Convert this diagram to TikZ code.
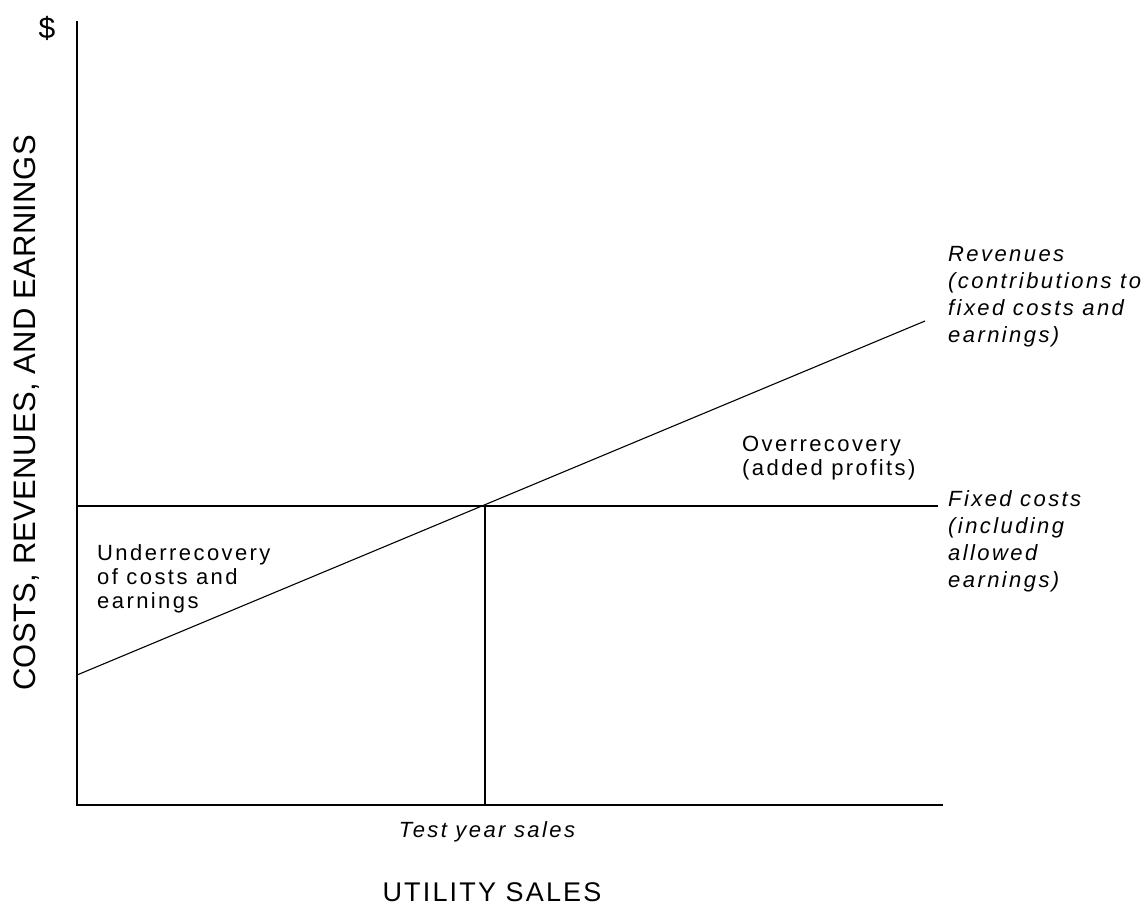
\documentclass[tikz,border=0pt]{standalone}
\usepackage{fontspec}
\setmainfont{Liberation Sans}
\newfontfamily\bodyfont[LetterSpace=11]{Liberation Sans}
\newfontfamily\ylabfont[LetterSpace=1]{Liberation Sans}
\newfontfamily\xlabfont[LetterSpace=8]{Liberation Sans}
\tikzset{
  axisline/.style={line width=1.2pt, black},
  plotline/.style={line width=1.1pt, black},
  body/.style={inner sep=0pt, align=left, font=\bodyfont\fontsize{22}{24}\selectfont},
  ibody/.style={inner sep=0pt, align=left, font=\bodyfont\itshape\fontsize{22}{27}\selectfont},
}
\begin{document}
\begin{tikzpicture}[x=1pt,y=-1pt]
\useasboundingbox (0,0) rectangle (1148,916);
% coordinates
\coordinate (T) at (77,21);
\coordinate (O) at (77,805);
\coordinate (XE) at (943,805);
\coordinate (F0) at (77,506);
\coordinate (FE) at (938,506);
\coordinate (R0) at (77,675);
\coordinate (RE) at (925,321);
\coordinate (P) at (485,506);
\coordinate (PB) at (485,805);
% axes and lines
\draw[axisline] (T) -- (O) -- (XE);
\draw[plotline] (F0) -- (FE);
\draw[plotline] (R0) -- (RE);
\draw[plotline] (P) -- (PB);
% labels
\node[inner sep=0pt, font=\fontsize{30}{30}\selectfont] (dollar) at (47,28) {\$};
\node[inner sep=0pt, rotate=90, font=\ylabfont\fontsize{31}{31}\selectfont] (ylab) at (27,413) {COSTS, REVENUES, AND EARNINGS};
\node[inner sep=0pt, font=\xlabfont\fontsize{27}{27}\selectfont] (xlab) at (492,892) {UTILITY SALES};
\node[ibody, font=\bodyfont\itshape\fontsize{22}{22}\selectfont] (tys) at (487,832) {Test year sales};
\node[ibody, anchor=north west] (rev) at (948,246) {Revenues\\(contributions to\\fixed costs and\\earnings)};
\node[ibody, anchor=north west] (fix) at (948,490) {Fixed costs\\(including\\allowed\\earnings)};
\node[body, anchor=north west] (over) at (742,436) {Overrecovery\\(added profits)};
\node[body, anchor=north west] (under) at (97,544) {Underrecovery\\of costs and\\earnings};
\end{tikzpicture}
\end{document}
